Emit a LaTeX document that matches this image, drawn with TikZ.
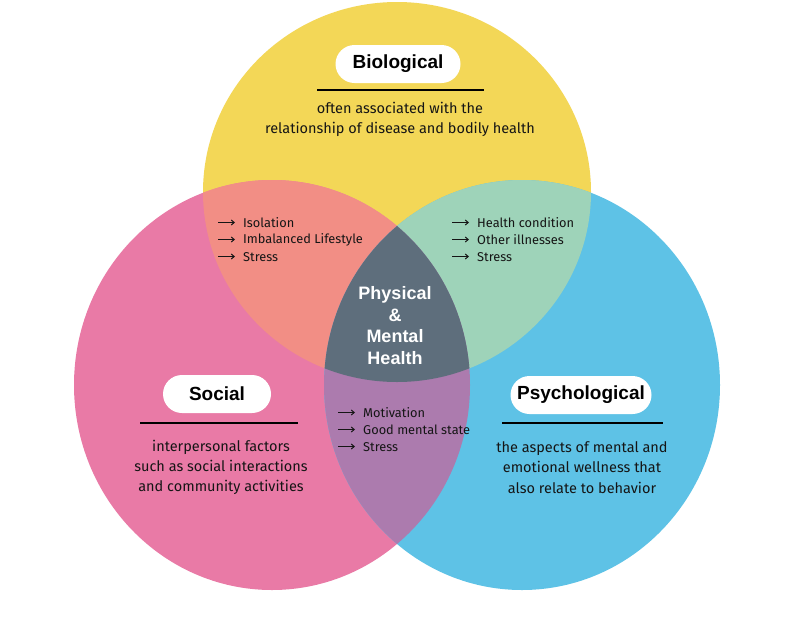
\documentclass[tikz,border=0pt]{standalone}
\usepackage{fontspec}
\usetikzlibrary{arrows.meta}
\setmainfont{Fira Sans}
\newfontfamily\titlefont{Liberation Sans}
\definecolor{cyellow}{HTML}{F3D757}
\definecolor{cpink}{HTML}{E97AA6}
\definecolor{cblue}{HTML}{5EC2E6}
\definecolor{csalmon}{HTML}{F28E85}
\definecolor{cmint}{HTML}{9ED3B9}
\definecolor{cpurple}{HTML}{AC7BAE}
\definecolor{cslate}{HTML}{5E6E7C}
\definecolor{txt}{HTML}{151515}
\begin{document}
\begin{tikzpicture}[x=1pt,y=-1pt,
  pill/.style={fill=white, rounded corners=19pt, minimum height=38pt, inner sep=0pt,
    font=\titlefont\bfseries\fontsize{19}{22}\selectfont, text=black},
  desc/.style={font=\fontsize{14.5}{20.3}\selectfont, align=center, text=txt, inner sep=0pt},
  item/.style={anchor=west, font=\fontsize{12.8}{14}\selectfont, text=txt, inner sep=0pt},
  listarr/.style={-{Straight Barb[length=3pt,width=5pt]}, line width=1pt, txt},
  rulebar/.style={line width=2.6pt, black},
  centertext/.style={font=\titlefont\bfseries\fontsize{18}{21.7}\selectfont, text=white, align=center, inner sep=0pt}
]
\useasboundingbox (0,0) rectangle (800,619);
\fill[white] (0,0) rectangle (800,619);
% base circles
\fill[cyellow] (397,192) ellipse [x radius=194pt, y radius=190pt];
\fill[cpink] (272,385) ellipse [x radius=198pt, y radius=205pt];
\fill[cblue] (522,385) ellipse [x radius=198pt, y radius=205pt];
% pair overlaps
\begin{scope}
  \clip (397,192) ellipse [x radius=194pt, y radius=190pt];
  \fill[csalmon] (272,385) ellipse [x radius=198pt, y radius=205pt];
  \fill[cmint] (522,385) ellipse [x radius=198pt, y radius=205pt];
\end{scope}
\begin{scope}
  \clip (272,385) ellipse [x radius=198pt, y radius=205pt];
  \fill[cpurple] (522,385) ellipse [x radius=198pt, y radius=205pt];
\end{scope}
\begin{scope}
  \clip (397,192) ellipse [x radius=194pt, y radius=190pt];
  \clip (272,385) ellipse [x radius=198pt, y radius=205pt];
  \fill[cslate] (522,385) ellipse [x radius=198pt, y radius=205pt];
\end{scope}

% titles
\node[pill, minimum width=125pt] (bio) at (398,64) {Biological};
\node[pill, minimum width=108pt] (soc) at (217,394) {Social};
\node[pill, minimum width=141pt] (psy) at (581,395) {Psychological};

% rules
\coordinate (bioL) at (317,90); \coordinate (bioR) at (484,90);
\coordinate (socL) at (140,423); \coordinate (socR) at (298,423);
\coordinate (psyL) at (502,423); \coordinate (psyR) at (663,423);
\draw[rulebar] (bioL) -- (bioR);
\draw[rulebar] (socL) -- (socR);
\draw[rulebar] (psyL) -- (psyR);

% descriptions
\node[desc] (biodesc) at (400,119.5) {often associated with the\\relationship of disease and bodily health};
\node[desc] (socdesc) at (221,467.5) {interpersonal factors\\such as social interactions\\and community activities};
\node[desc] (psydesc) at (582,467.5) {the aspects of mental and\\emotional wellness that\\also relate to behavior};

% overlap lists
\node[item] (l1) at (243,223) {Isolation};
\node[item] (l2) at (243,240) {Imbalanced Lifestyle};
\node[item] (l3) at (243,257) {Stress};
\node[item] (r1) at (477,223) {Health condition};
\node[item] (r2) at (477,240) {Other illnesses};
\node[item] (r3) at (477,257) {Stress};
\node[item] (b1) at (363,413) {Motivation};
\node[item] (b2) at (363,430) {Good mental state};
\node[item] (b3) at (363,447) {Stress};
\foreach \n in {l1,l2,l3,r1,r2,r3,b1,b2,b3}{
  \draw[listarr] ([xshift=-25pt,yshift=0.5pt]\n.west) -- ([xshift=-8pt,yshift=0.5pt]\n.west);
}

% center
\node[centertext] (center) at (395,325.5) {Physical\\\&\\Mental\\Health};
\end{tikzpicture}
\end{document}
